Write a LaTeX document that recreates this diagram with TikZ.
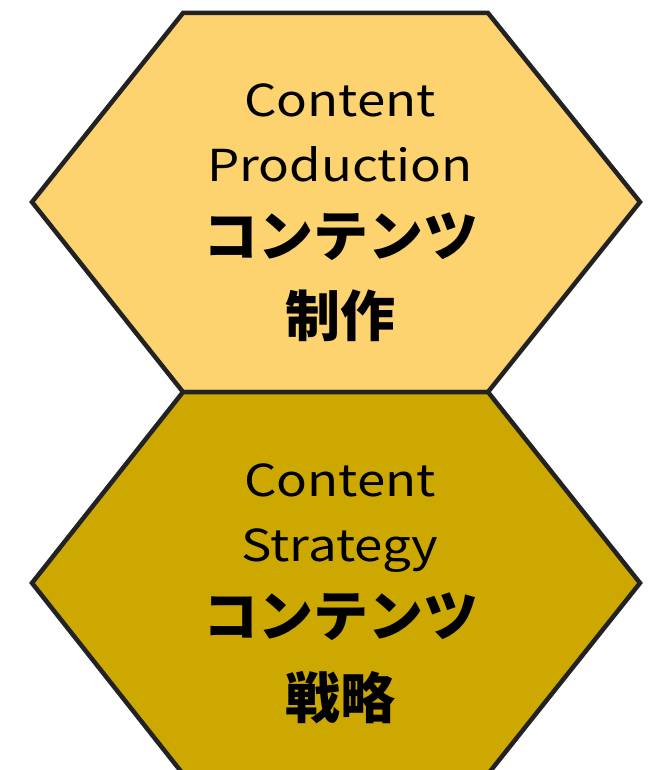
\documentclass[tikz,border=0pt]{standalone}
\usepackage{fontspec}
\setmainfont{Noto Sans CJK JP}
\newfontfamily\enfont[FakeStretch=1.16]{Noto Sans CJK JP}
\definecolor{prodfill}{HTML}{FCD36E}
\definecolor{stratfill}{HTML}{CCA800}
\definecolor{edgeline}{HTML}{222222}

\begin{document}
\begin{tikzpicture}[x=1pt,y=-1pt,
  hexa/.style={draw=edgeline,line width=4.5pt,line join=miter},
  entext/.style={anchor=base,inner sep=0pt,font=\enfont\fontsize{44}{44}\selectfont},
  jptext/.style={anchor=base,inner sep=0pt,font=\fontsize{55}{55}\selectfont\bfseries}]
\useasboundingbox (0,0) rectangle (657,770);
% hexagon corners
\coordinate (P1) at (183,13);
\coordinate (P2) at (488,13);
\coordinate (P3) at (640,202);
\coordinate (P4) at (488,392);
\coordinate (P5) at (183,392);
\coordinate (P6) at (32,202);
\coordinate (S3) at (640,583);
\coordinate (S4) at (488,774);
\coordinate (S5) at (183,774);
\coordinate (S6) at (32,583);
%production
\draw[hexa,fill=prodfill] (P1) -- (P2) -- (P3) -- (P4) -- (P5) -- (P6) -- cycle;
%strategy
\draw[hexa,fill=stratfill] (P5) -- (P4) -- (S3) -- (S4) -- (S5) -- (S6) -- cycle;
\node[entext] (prod1) at (340,117) {Content};
\node[entext] (prod2) at (340,182) {Production};
\node[jptext] (prod3) at (341,256) {コンテンツ};
\node[jptext] (prod4) at (340,336) {制作};
\node[entext] (strat1) at (340,496) {Content};
\node[entext] (strat2) at (340,561) {Strategy};
\node[jptext] (strat3) at (341,636) {コンテンツ};
\node[jptext] (strat4) at (340,718) {戦略};
\end{tikzpicture}
\end{document}
